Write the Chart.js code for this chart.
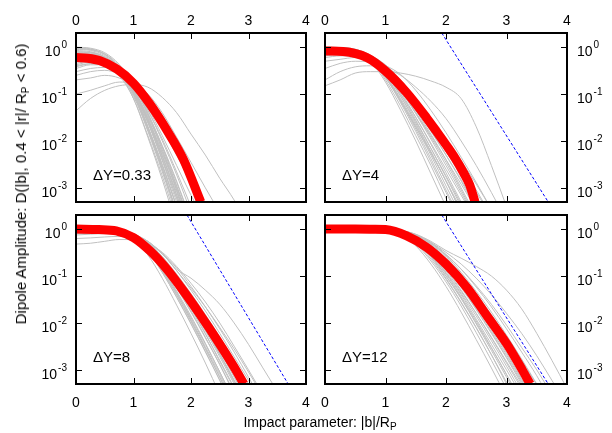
<!DOCTYPE html>
<html>
<head>
<meta charset="utf-8">
<title>Dipole amplitude vs impact parameter</title>
<script src="https://cdn.jsdelivr.net/npm/chart.js@4.4.0/dist/chart.umd.min.js"></script>
<style>
  html, body { margin: 0; padding: 0; background: #fff; }
  #wrap { position: relative; width: 612px; height: 433px; overflow: hidden;
          font-family: "Liberation Sans", Arial, Helvetica, sans-serif; color: #000; }
  #wrap canvas { position: absolute; left: 0; top: 0; }
  .title { position: absolute; white-space: nowrap; font-size: 14px; line-height: 16px; }
  .title sub { font-size: 10px; vertical-align: -3px; line-height: 0; }
  #ytitle { left: 21px; top: 184px; font-size: 15px; transform: translate(-50%, -50%) rotate(-90deg); }
  #xtitle { left: 320px; top: 414px; transform: translateX(-50%); }
</style>
</head>
<body>
<div id="wrap">
  <canvas id="p1" width="612" height="433"></canvas>
  <canvas id="p2" width="612" height="433"></canvas>
  <canvas id="p3" width="612" height="433"></canvas>
  <canvas id="p4" width="612" height="433"></canvas>
  <div class="title" id="ytitle">Dipole Amplitude: D(|b|, 0.4 &lt; |r|/ R<sub>P</sub> &lt; 0.6)</div>
  <div class="title" id="xtitle">Impact parameter: |b|/R<sub>P</sub></div>
</div>
<script>
  // common b grid for the individual configurations (|b|/R_P)
  var bGrid = [0, 0.25, 0.5, 0.75, 1, 1.25, 1.5, 1.75, 2, 2.25, 2.5, 2.75, 3, 3.25, 3.5, 3.75, 4];

  var xTicks = [0, 1, 2, 3, 4];
  var yTicks = [1, 0.1, 0.01, 0.001];
  var yExp = ['0', '-1', '-2', '-3'];
  var yMin = 0.0005, yMax = 2;

  var dyLabels = ['\u0394Y=0.33', '\u0394Y=4', '\u0394Y=8', '\u0394Y=12'];

  // averaged amplitude (thick red)
  var redB1 = [0, 0.2, 0.42, 0.71, 1.0, 1.29, 1.58, 1.87, 2.17];
  var redD1 = [0.6, 0.58, 0.51, 0.34, 0.17, 0.06, 0.017, 0.004, 0.0005];
  var redB2 = [0, 0.3, 0.69, 1.0, 1.35, 1.68, 1.84, 2.0, 2.15, 2.29, 2.39, 2.48];
  var redD2 = [0.83, 0.81, 0.6, 0.31, 0.107, 0.031, 0.0162, 0.0083, 0.0043, 0.0021, 0.00117, 0.0005];
  var redB3 = [0, 0.4, 0.7, 1.0, 1.29, 1.58, 1.87, 2.16, 2.45, 2.74, 2.92];
  var redD3 = [1.0, 0.98, 0.92, 0.66, 0.34, 0.14, 0.048, 0.015, 0.0044, 0.0012, 0.0005];
  var redB4 = [0, 0.5, 0.8, 1.0, 1.35, 1.68, 2.0, 2.35, 2.68, 3.01, 3.26, 3.39];
  var redD4 = [1.0, 1.0, 0.995, 0.98, 0.72, 0.41, 0.18, 0.056, 0.014, 0.0035, 0.001, 0.0005];

  // reference exponential (blue dashed), same in the last three panels
  var blueB = [1.93, 3.69];
  var blueD = [2, 0.0005];

  // single events (thin gray), sampled on bGrid
  var gray1 = [
    [0.95, 0.9, 0.7, 0.38, 0.13, 0.02, 0.0026, 0.0003],
    [0.85, 0.8, 0.62, 0.33, 0.1, 0.016, 0.0022, 0.00025],
    [0.75, 0.75, 0.62, 0.36, 0.13, 0.026, 0.004, 0.0006, 0.0001],
    [0.7, 0.72, 0.56, 0.28, 0.08, 0.012, 0.0015, 0.00015],
    [0.6, 0.62, 0.52, 0.31, 0.12, 0.026, 0.0048, 0.0008, 0.00012],
    [0.5, 0.55, 0.52, 0.34, 0.15, 0.035, 0.0065, 0.0011, 0.00018],
    [0.45, 0.5, 0.46, 0.25, 0.08, 0.013, 0.0018, 0.0002],
    [0.35, 0.42, 0.42, 0.28, 0.11, 0.024, 0.0038, 0.0005, 0.00008],
    [0.3, 0.35, 0.37, 0.26, 0.12, 0.033, 0.0075, 0.0013, 0.0002],
    [1.0, 0.95, 0.76, 0.43, 0.16, 0.038, 0.0065, 0.0009, 0.0001],
    [0.65, 0.68, 0.6, 0.36, 0.15, 0.04, 0.0075, 0.0011, 0.00015],
    [0.55, 0.6, 0.52, 0.29, 0.09, 0.017, 0.0025, 0.0003],
    [0.9, 0.85, 0.66, 0.35, 0.11, 0.018, 0.0025, 0.0003],
    [0.8, 0.78, 0.6, 0.32, 0.1, 0.019, 0.003, 0.0004],
    [0.72, 0.7, 0.58, 0.34, 0.13, 0.03, 0.0055, 0.0009, 0.00013],
    [0.62, 0.64, 0.55, 0.33, 0.12, 0.028, 0.0048, 0.0007, 0.0001],
    [0.52, 0.58, 0.5, 0.3, 0.1, 0.02, 0.0032, 0.0004],
    [0.42, 0.48, 0.47, 0.3, 0.12, 0.03, 0.0058, 0.001, 0.00015],
    [0.92, 0.88, 0.72, 0.4, 0.14, 0.03, 0.0048, 0.0007, 0.0001],
    [0.68, 0.7, 0.6, 0.37, 0.15, 0.038, 0.008, 0.0014, 0.0002],
    [0.58, 0.6, 0.54, 0.35, 0.16, 0.045, 0.01, 0.0019, 0.0003],
    [0.38, 0.44, 0.44, 0.32, 0.15, 0.045, 0.011, 0.0022, 0.0004],
    [0.98, 0.92, 0.7, 0.36, 0.11, 0.02, 0.003, 0.0004],
    [0.78, 0.76, 0.6, 0.34, 0.12, 0.025, 0.0042, 0.0006, 0.0001],
    [0.4, 0.45, 0.46, 0.36, 0.2, 0.075, 0.022, 0.006, 0.0015, 0.0004],
    [0.044, 0.08, 0.12, 0.15, 0.16, 0.14, 0.085, 0.04, 0.014, 0.005, 0.0016, 0.00055, 0.00015],
    [0.1, 0.12, 0.15, 0.18, 0.17, 0.1, 0.04, 0.012, 0.0035, 0.001, 0.0003],
    [0.2, 0.22, 0.25, 0.22, 0.15, 0.06, 0.018, 0.005, 0.0013, 0.0004],
    [0.25, 0.3, 0.32, 0.26, 0.14, 0.05, 0.013, 0.003, 0.0007, 0.00018]
  ];
  var gray2 = [
    [1.0, 0.98, 0.9, 0.65, 0.3, 0.1, 0.028, 0.007, 0.0017, 0.0004],
    [0.95, 0.95, 0.85, 0.6, 0.25, 0.075, 0.02, 0.005, 0.0011, 0.00025],
    [0.9, 0.92, 0.85, 0.55, 0.2, 0.055, 0.013, 0.003, 0.0006, 0.00012],
    [0.85, 0.88, 0.82, 0.62, 0.32, 0.12, 0.038, 0.011, 0.003, 0.0008, 0.0002],
    [0.8, 0.85, 0.8, 0.58, 0.27, 0.09, 0.026, 0.007, 0.0018, 0.00045, 0.0001],
    [0.75, 0.78, 0.75, 0.6, 0.33, 0.14, 0.05, 0.016, 0.005, 0.0015, 0.0004],
    [0.7, 0.75, 0.72, 0.5, 0.22, 0.07, 0.02, 0.0055, 0.0014, 0.00035],
    [0.9, 0.9, 0.8, 0.5, 0.18, 0.045, 0.01, 0.002, 0.0004],
    [0.6, 0.65, 0.65, 0.52, 0.3, 0.13, 0.05, 0.018, 0.006, 0.0019, 0.0006, 0.00018],
    [0.98, 0.96, 0.88, 0.66, 0.35, 0.14, 0.045, 0.014, 0.004, 0.001, 0.00025],
    [0.5, 0.55, 0.6, 0.55, 0.36, 0.17, 0.065, 0.023, 0.008, 0.0025, 0.0008, 0.00025],
    [0.88, 0.9, 0.84, 0.6, 0.28, 0.1, 0.032, 0.009, 0.0025, 0.0007, 0.0002],
    [0.97, 0.97, 0.88, 0.62, 0.28, 0.09, 0.024, 0.006, 0.0014, 0.0003],
    [0.92, 0.93, 0.86, 0.63, 0.3, 0.11, 0.032, 0.0085, 0.0021, 0.0005, 0.00012],
    [0.87, 0.9, 0.84, 0.58, 0.24, 0.07, 0.018, 0.0042, 0.0009, 0.0002],
    [0.82, 0.86, 0.82, 0.64, 0.35, 0.15, 0.052, 0.017, 0.005, 0.0014, 0.00035],
    [0.78, 0.82, 0.78, 0.56, 0.25, 0.08, 0.022, 0.0058, 0.0014, 0.0003],
    [0.94, 0.94, 0.87, 0.64, 0.32, 0.12, 0.04, 0.012, 0.0035, 0.0009, 0.00022],
    [0.72, 0.76, 0.74, 0.6, 0.36, 0.16, 0.06, 0.02, 0.0065, 0.002, 0.0006, 0.00016],
    [0.96, 0.95, 0.86, 0.58, 0.23, 0.065, 0.016, 0.0036, 0.0008, 0.00018],
    [0.65, 0.7, 0.7, 0.56, 0.31, 0.12, 0.04, 0.013, 0.004, 0.0012, 0.00035],
    [0.99, 0.98, 0.9, 0.68, 0.38, 0.16, 0.058, 0.019, 0.006, 0.0018, 0.0005, 0.00013],
    [0.8, 0.82, 0.8, 0.66, 0.42, 0.2, 0.08, 0.03, 0.011, 0.0038, 0.0012, 0.00035],
    [0.7, 0.74, 0.74, 0.63, 0.4, 0.19, 0.075, 0.027, 0.0092, 0.003, 0.0009, 0.00025],
    [0.15, 0.2, 0.28, 0.3, 0.3, 0.28, 0.24, 0.19, 0.14, 0.08, 0.02, 0.003, 0.0004],
    [0.2, 0.3, 0.38, 0.4, 0.35, 0.25, 0.14, 0.07, 0.03, 0.01, 0.003, 0.0008, 0.0002],
    [0.35, 0.45, 0.5, 0.48, 0.4, 0.26, 0.12, 0.045, 0.015, 0.0045, 0.0013, 0.00035]
  ];
  var gray3 = [
    [1.0, 1.0, 0.98, 0.92, 0.75, 0.45, 0.2, 0.07, 0.022, 0.006, 0.0015, 0.0004],
    [0.95, 0.95, 0.94, 0.9, 0.7, 0.38, 0.15, 0.048, 0.014, 0.0037, 0.0009, 0.0002],
    [0.9, 0.9, 0.9, 0.85, 0.65, 0.33, 0.12, 0.035, 0.0095, 0.0024, 0.0006, 0.00014],
    [0.85, 0.86, 0.86, 0.82, 0.6, 0.28, 0.09, 0.024, 0.006, 0.0014, 0.0003],
    [0.98, 0.98, 0.97, 0.93, 0.78, 0.5, 0.24, 0.09, 0.03, 0.009, 0.0025, 0.0007, 0.00018],
    [0.8, 0.82, 0.83, 0.8, 0.66, 0.4, 0.18, 0.065, 0.02, 0.0058, 0.0016, 0.00042],
    [0.92, 0.92, 0.91, 0.87, 0.68, 0.36, 0.13, 0.04, 0.011, 0.0028, 0.0007, 0.00016],
    [0.88, 0.88, 0.88, 0.85, 0.72, 0.46, 0.22, 0.085, 0.03, 0.0095, 0.0028, 0.0008, 0.0002],
    [0.97, 0.97, 0.96, 0.9, 0.7, 0.4, 0.16, 0.055, 0.017, 0.0048, 0.0013, 0.00033],
    [0.75, 0.78, 0.8, 0.78, 0.62, 0.35, 0.14, 0.045, 0.013, 0.0035, 0.0009, 0.00022],
    [0.93, 0.93, 0.92, 0.88, 0.74, 0.48, 0.25, 0.1, 0.038, 0.013, 0.004, 0.0012, 0.00035],
    [0.9, 0.9, 0.9, 0.87, 0.7, 0.42, 0.19, 0.07, 0.024, 0.0075, 0.0022, 0.0006, 0.00016],
    [0.96, 0.96, 0.95, 0.9, 0.72, 0.42, 0.17, 0.058, 0.018, 0.005, 0.0013, 0.0003],
    [0.94, 0.94, 0.93, 0.88, 0.68, 0.37, 0.14, 0.044, 0.012, 0.0031, 0.0008, 0.00018],
    [0.99, 0.99, 0.98, 0.94, 0.8, 0.52, 0.26, 0.1, 0.035, 0.011, 0.0032, 0.0009, 0.00024],
    [0.87, 0.87, 0.87, 0.84, 0.66, 0.36, 0.13, 0.04, 0.011, 0.0029, 0.0007, 0.00016],
    [0.91, 0.91, 0.9, 0.86, 0.7, 0.44, 0.2, 0.075, 0.025, 0.0075, 0.0021, 0.00055, 0.00014],
    [0.83, 0.84, 0.85, 0.82, 0.68, 0.42, 0.19, 0.07, 0.023, 0.0068, 0.0019, 0.0005],
    [0.97, 0.97, 0.96, 0.92, 0.76, 0.47, 0.22, 0.08, 0.026, 0.0078, 0.0022, 0.0006, 0.00015],
    [0.89, 0.89, 0.89, 0.86, 0.67, 0.35, 0.12, 0.036, 0.0098, 0.0025, 0.0006, 0.00014],
    [0.95, 0.95, 0.94, 0.89, 0.73, 0.46, 0.23, 0.09, 0.032, 0.011, 0.0034, 0.001, 0.00028],
    [0.92, 0.92, 0.92, 0.88, 0.75, 0.5, 0.26, 0.11, 0.042, 0.015, 0.005, 0.0016, 0.0005, 0.00014],
    [0.86, 0.87, 0.88, 0.86, 0.76, 0.54, 0.3, 0.13, 0.05, 0.018, 0.006, 0.0019, 0.0006, 0.00018],
    [0.48, 0.5, 0.55, 0.6, 0.6, 0.5, 0.32, 0.16, 0.07, 0.028, 0.01, 0.0032, 0.001, 0.0003],
    [0.63, 0.65, 0.68, 0.7, 0.65, 0.5, 0.3, 0.15, 0.06, 0.022, 0.0075, 0.0024, 0.0007, 0.0002],
    [0.85, 0.86, 0.87, 0.85, 0.75, 0.55, 0.3, 0.14, 0.09, 0.05, 0.025, 0.01, 0.0035, 0.0011, 0.00035],
    [0.9, 0.9, 0.9, 0.88, 0.78, 0.55, 0.3, 0.13, 0.055, 0.022, 0.008, 0.0028, 0.0009, 0.00028]
  ];
  var gray4 = [
    [1, 1, 1, 1, 0.98, 0.9, 0.7, 0.42, 0.2, 0.08, 0.028, 0.009, 0.0027, 0.0008, 0.00022],
    [1, 1, 1, 1, 0.97, 0.86, 0.62, 0.33, 0.14, 0.05, 0.016, 0.0048, 0.0014, 0.0004],
    [1, 1, 1, 1, 0.96, 0.82, 0.55, 0.27, 0.1, 0.033, 0.0095, 0.0026, 0.0007, 0.00018],
    [1, 1, 1, 1, 0.95, 0.78, 0.48, 0.21, 0.075, 0.023, 0.0062, 0.0016, 0.0004],
    [1, 1, 1, 1, 0.98, 0.88, 0.66, 0.38, 0.17, 0.065, 0.022, 0.007, 0.0021, 0.0006, 0.00016],
    [1, 1, 1, 1, 0.99, 0.92, 0.75, 0.5, 0.27, 0.12, 0.047, 0.017, 0.0055, 0.0017, 0.0005, 0.00014],
    [1, 1, 1, 1, 0.96, 0.8, 0.52, 0.25, 0.09, 0.028, 0.008, 0.0021, 0.0005],
    [1, 1, 1, 1, 0.94, 0.75, 0.44, 0.18, 0.06, 0.017, 0.0044, 0.0011, 0.00026],
    [1, 1, 1, 1, 0.97, 0.85, 0.6, 0.31, 0.13, 0.047, 0.016, 0.005, 0.0015, 0.00045],
    [1, 1, 1, 1, 0.98, 0.9, 0.72, 0.46, 0.23, 0.095, 0.035, 0.012, 0.0038, 0.0012, 0.00035],
    [1, 1, 1, 1, 0.97, 0.84, 0.58, 0.29, 0.115, 0.04, 0.012, 0.0035, 0.001, 0.00028],
    [1, 1, 1, 1, 0.99, 0.91, 0.7, 0.44, 0.22, 0.09, 0.032, 0.01, 0.003, 0.0009, 0.00026],
    [1, 1, 1, 1, 0.98, 0.89, 0.68, 0.4, 0.18, 0.07, 0.024, 0.0078, 0.0023, 0.00065, 0.00018],
    [1, 1, 1, 1, 0.97, 0.84, 0.59, 0.3, 0.12, 0.043, 0.014, 0.0042, 0.0012, 0.00033],
    [1, 1, 1, 1, 0.96, 0.81, 0.53, 0.26, 0.1, 0.034, 0.01, 0.0029, 0.0008, 0.0002],
    [1, 1, 1, 1, 0.99, 0.9, 0.71, 0.45, 0.22, 0.09, 0.033, 0.011, 0.0035, 0.001, 0.00028],
    [1, 1, 1, 1, 0.97, 0.86, 0.63, 0.35, 0.15, 0.057, 0.019, 0.006, 0.0018, 0.0005],
    [1, 1, 1, 1, 0.95, 0.79, 0.5, 0.23, 0.085, 0.027, 0.0078, 0.0021, 0.00055, 0.00014],
    [1, 1, 1, 1, 0.98, 0.91, 0.73, 0.48, 0.25, 0.11, 0.042, 0.015, 0.005, 0.0016, 0.00048],
    [1, 1, 1, 1, 0.99, 0.93, 0.77, 0.52, 0.29, 0.14, 0.058, 0.022, 0.0075, 0.0024, 0.00075, 0.0002],
    [1, 1, 1, 1, 0.96, 0.83, 0.57, 0.28, 0.11, 0.036, 0.011, 0.003, 0.0008, 0.0002],
    [1, 1, 1, 1, 0.98, 0.87, 0.64, 0.36, 0.16, 0.06, 0.02, 0.0064, 0.0019, 0.00055, 0.00015],
    [1, 1, 1, 1, 0.99, 0.94, 0.78, 0.55, 0.35, 0.24, 0.16, 0.1, 0.05, 0.02, 0.006, 0.0016, 0.0004],
    [1, 1, 1, 1, 0.99, 0.93, 0.76, 0.52, 0.32, 0.18, 0.09, 0.04, 0.016, 0.006, 0.002, 0.0006, 0.00018],
    [1, 1, 1, 1, 0.98, 0.92, 0.74, 0.5, 0.28, 0.14, 0.062, 0.025, 0.009, 0.003, 0.001, 0.0003]
  ];

  var FONT = '"Liberation Sans", Arial, Helvetica, sans-serif';

  // gnuplot-like frame: box, inward ticks on all sides, 10^n labels
  var framePlugin = {
    id: 'frame',
    afterDraw: function(ch) {
      var o = ch.options.plugins.frame;
      var a = ch.chartArea, ctx = ch.ctx;
      var xs = ch.scales.x, ys = ch.scales.y;
      ctx.save();
      ctx.strokeStyle = '#000';
      ctx.lineWidth = 1;
      ctx.beginPath();
      xTicks.forEach(function(v) {
        var px = Math.round(xs.getPixelForValue(v)) + 0.5;
        ctx.moveTo(px, a.top); ctx.lineTo(px, a.top + 6);
        ctx.moveTo(px, a.bottom); ctx.lineTo(px, a.bottom - 6);
      });
      yTicks.forEach(function(v) {
        var py = Math.round(ys.getPixelForValue(v)) + 0.5;
        ctx.moveTo(a.left, py); ctx.lineTo(a.left + 6, py);
        ctx.moveTo(a.right, py); ctx.lineTo(a.right - 6, py);
      });
      ctx.stroke();
      ctx.lineWidth = 2;
      ctx.strokeRect(a.left, a.top, a.right - a.left, a.bottom - a.top);

      ctx.fillStyle = '#000';
      ctx.font = '14px ' + FONT;
      ctx.textAlign = 'center';
      ctx.textBaseline = 'alphabetic';
      xTicks.forEach(function(v) {
        var px = xs.getPixelForValue(v);
        var py = o.xSide === 'top' ? a.top - 8 : a.bottom + 23;
        ctx.fillText(String(v), px, py);
      });

      ctx.textAlign = 'left';
      yTicks.forEach(function(v, i) {
        var py = ys.getPixelForValue(v);
        ctx.font = '14px ' + FONT;
        var wb = ctx.measureText('10').width;
        ctx.font = '10px ' + FONT;
        var we = ctx.measureText(yExp[i]).width;
        var x0 = o.ySide === 'left' ? a.left - 9 - we - wb - 1 : a.right + 10;
        ctx.font = '14px ' + FONT;
        ctx.fillText('10', x0, py + 9);
        ctx.font = '10px ' + FONT;
        ctx.fillText(yExp[i], x0 + wb + 1, py + 1);
      });

      ctx.font = '15px ' + FONT;
      ctx.fillText(o.label, a.left + 17, a.bottom - 22);
      ctx.restore();
    }
  };

  function pts(bs, ds) {
    return ds.map(function(d, i) { return { x: bs[i], y: d }; });
  }

  function makePanel(id, box, grays, redB, redD, withBlue, label, xSide, ySide) {
    var sets = [{
      data: pts(redB, redD),
      borderColor: '#ff0000',
      borderWidth: 9,
      order: 0
    }];
    if (withBlue) {
      sets.push({
        data: pts(blueB, blueD),
        borderColor: '#0000ff',
        borderWidth: 1,
        borderDash: [3, 2],
        cubicInterpolationMode: 'default',
        tension: 0,
        order: 1
      });
    }
    grays.forEach(function(g) {
      sets.push({
        data: pts(bGrid, g),
        borderColor: '#c0c0c0',
        borderWidth: 1,
        order: 2
      });
    });
    sets.forEach(function(s) {
      s.pointRadius = 0;
      s.fill = false;
      if (!s.cubicInterpolationMode) s.cubicInterpolationMode = 'monotone';
    });

    return new Chart(document.getElementById(id), {
      type: 'line',
      data: { datasets: sets },
      plugins: [framePlugin],
      options: {
        responsive: false,
        animation: false,
        events: [],
        layout: {
          padding: { left: box.l, top: box.t, right: 612 - box.r, bottom: 433 - box.b }
        },
        plugins: {
          legend: { display: false },
          tooltip: { enabled: false },
          frame: { label: label, xSide: xSide, ySide: ySide }
        },
        scales: {
          x: { type: 'linear', min: 0, max: 4, display: false },
          y: { type: 'logarithmic', min: yMin, max: yMax, display: false }
        }
      }
    });
  }

  makePanel('p1', { l: 76, t: 33, r: 306, b: 202 }, gray1, redB1, redD1, false, dyLabels[0], 'top', 'left');
  makePanel('p2', { l: 325, t: 33, r: 567, b: 202 }, gray2, redB2, redD2, true, dyLabels[1], 'top', 'right');
  makePanel('p3', { l: 76, t: 215, r: 306, b: 384 }, gray3, redB3, redD3, true, dyLabels[2], 'bottom', 'left');
  makePanel('p4', { l: 325, t: 215, r: 567, b: 384 }, gray4, redB4, redD4, true, dyLabels[3], 'bottom', 'right');
</script>
</body>
</html>
